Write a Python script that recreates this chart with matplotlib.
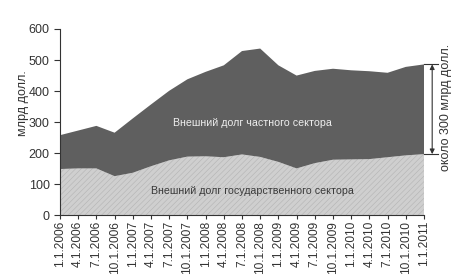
import matplotlib
matplotlib.use('Agg')
import matplotlib.pyplot as plt
import numpy as np

plt.rcParams['font.family'] = ['Liberation Sans', 'DejaVu Sans']
plt.rcParams['hatch.linewidth'] = 0.4

# квартальные даты
dates = ['1.1.2006', '4.1.2006', '7.1.2006', '10.1.2006',
         '1.1.2007', '4.1.2007', '7.1.2007', '10.1.2007',
         '1.1.2008', '4.1.2008', '7.1.2008', '10.1.2008',
         '1.1.2009', '4.1.2009', '7.1.2009', '10.1.2009',
         '1.1.2010', '4.1.2010', '7.1.2010', '10.1.2010',
         '1.1.2011']
# госсектор, млрд долл.
gov_debt = [149, 151, 151, 126, 137, 158, 177, 189, 190, 187, 196, 188,
            172, 151, 168, 179, 180, 181, 187, 193, 197]
# весь внешний долг (гос + частный), млрд долл.
total_debt = [258, 273, 288, 266, 312, 357, 401, 438, 462, 483, 529, 537,
              483, 450, 465, 472, 467, 464, 459, 478, 486]

x = np.arange(len(dates))

fig = plt.figure(figsize=(4.68, 2.76), dpi=100)
ax = fig.add_axes([60 / 468, (276 - 215.3) / 276, 364 / 468, (215.3 - 29) / 276])

ax.fill_between(x, 0, gov_debt, facecolor='#cfcfcf', edgecolor='#b3b3b3',
                hatch='//////', linewidth=0)
ax.fill_between(x, gov_debt, total_debt, facecolor='#5f5f5f', linewidth=0)

ax.set_xlim(0, len(dates) - 1)
ax.set_ylim(0, 600)
ax.set_yticks(range(0, 601, 100))
ax.set_xticks(x)
ax.set_xticklabels(dates, rotation=90, fontsize=8.6, color='#333333')
ax.tick_params(axis='y', labelsize=9, colors='#333333', length=4, width=0.8)
ax.tick_params(axis='x', length=3, width=0.8, pad=1, colors='#333333')
for s in ['top', 'right']:
    ax.spines[s].set_visible(False)
for s in ['left', 'bottom']:
    ax.spines[s].set_color('#333333')
    ax.spines[s].set_linewidth(0.8)

ax.set_ylabel('млрд долл.', fontsize=9, color='#333333')
ax.yaxis.set_label_coords(-0.085, 0.6)

ax.text(10.6, 297, 'Внешний долг частного сектора', fontsize=7.7,
        color='#eeeeee', ha='center', va='center')
ax.text(10.6, 79, 'Внешний долг государственного сектора', fontsize=7.7,
        color='#3a3a3a', ha='center', va='center')

# стрелка "около 300 млрд долл."
xa = len(dates) - 1 + 0.45
top, bot = total_debt[-1], gov_debt[-1]
ax.plot([len(dates) - 1, xa + 0.3], [top, top], color='#333333', lw=0.8, clip_on=False)
ax.plot([len(dates) - 1, xa + 0.3], [bot, bot], color='#333333', lw=0.8, clip_on=False)
ax.annotate('', xy=(xa, top), xytext=(xa, bot),
            arrowprops=dict(arrowstyle='<|-|>', color='#333333', lw=0.8,
                            mutation_scale=7, shrinkA=0, shrinkB=0),
            annotation_clip=False)
ax.text(xa + 0.75, (top + bot) / 2 + 6, 'около 300 млрд долл.', rotation=90,
        fontsize=9, color='#333333', ha='center', va='center', clip_on=False)

fig.savefig('out.png', dpi=100)
